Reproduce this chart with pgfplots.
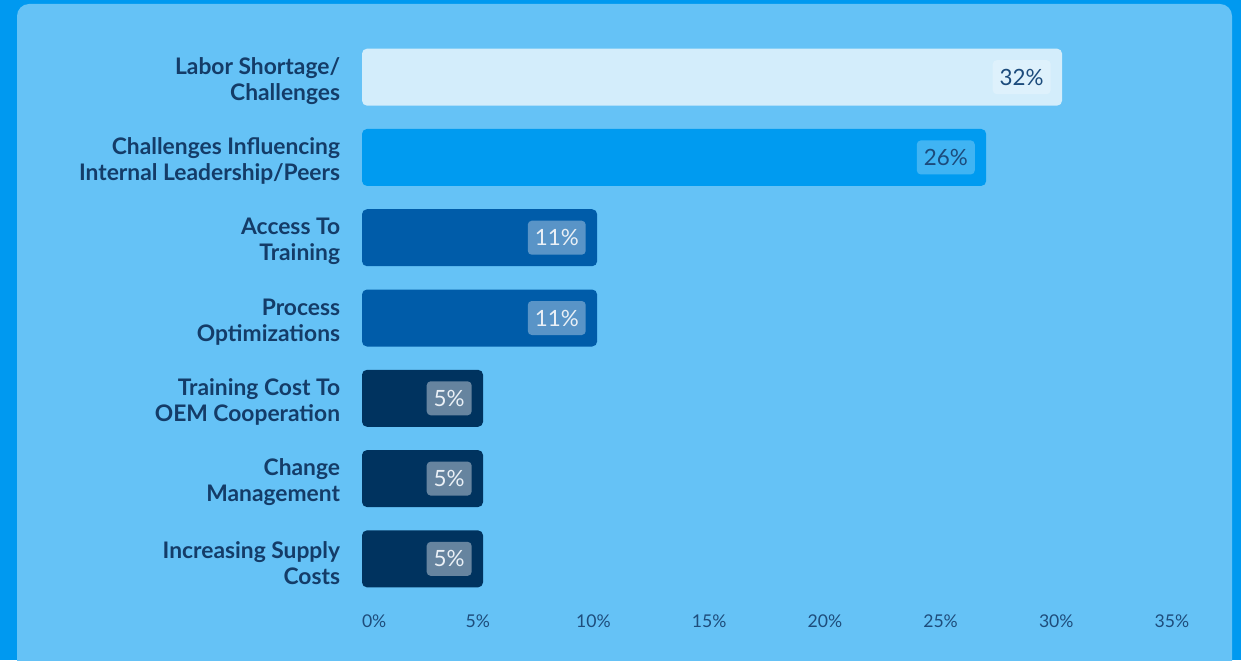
\documentclass[border=0pt]{standalone}
\usepackage{pgfplots}
\pgfplotsset{compat=1.18}
\usepackage{fontspec}
\setmainfont{Lato}
\definecolor{outerbg}{HTML}{0099F0}
\definecolor{panel}{HTML}{65C2F6}
\definecolor{barA}{HTML}{D3EDFB}
\definecolor{barB}{HTML}{009BF0}
\definecolor{barC}{HTML}{005CA9}
\definecolor{barD}{HTML}{00335F}
\definecolor{labcol}{HTML}{143C68}
\definecolor{tickcol}{HTML}{1E4D7C}
\definecolor{valdark}{HTML}{1C4B7C}
\definecolor{vallight}{HTML}{EAF0F6}
\begin{document}
\begin{tikzpicture}
\path[use as bounding box] (0,0) rectangle (620.5pt,330pt);
\fill[outerbg] (0,0) rectangle (620.5pt,330pt);
\fill[panel, rounded corners=6pt] (8.5pt,-12pt) rectangle (616pt,328pt);
\begin{axis}[
  at={(181pt,30.5pt)}, anchor=south west,
  scale only axis, width=405pt, height=281pt,
  xmin=0, xmax=35, ymin=-0.5, ymax=6.5, y dir=reverse,
  xbar, bar width=28.5pt, bar shift=0pt,
  axis line style={draw=none}, major tick style={draw=none},
  xtick={0,5,10,15,20,25,30,35},
  xticklabels={\makebox[0pt][l]{0\%},5\%,10\%,15\%,20\%,25\%,30\%,35\%},
  xticklabel style={font=\fontsize{8.8}{10}\selectfont, text=tickcol, inner sep=0pt, yshift=-7.5pt},
  ytick={0,1,2,3,4,5,6},
  yticklabels={Labor Shortage/\\Challenges, Challenges Influencing\\Internal Leadership/Peers, Access To\\Training, Process\\Optimizations, Training Cost To\\OEM Cooperation, Change\\Management, Increasing Supply\\Costs},
  yticklabel style={align=right, font=\bfseries\fontsize{11.4}{13}\selectfont, text=labcol, inner sep=0pt, xshift=-6.5pt, yshift=-2pt},
  point meta=explicit symbolic,
  nodes near coords={\pgfplotspointmeta\%},
  every node near coord/.append style={anchor=east, xshift=-5.5pt, font=\fontsize{11.2}{13}\selectfont, fill=white, fill opacity=0.3, text opacity=1, rounded corners=2pt, inner xsep=3.5pt, minimum height=17pt},
  clip=false,
]
\addplot[fill=barA, draw=none, rounded corners=2.5pt, every node near coord/.append style={text=valdark, fill opacity=0.25}] coordinates {(30.25,0) [32]};
\addplot[fill=barB, draw=none, rounded corners=2.5pt, every node near coord/.append style={text=valdark, fill opacity=0.25}] coordinates {(26.97,1) [26]};
\addplot[fill=barC, draw=none, rounded corners=2.5pt, every node near coord/.append style={text=vallight, fill opacity=0.35}] coordinates {(10.16,2) [11] (10.16,3) [11]};
\addplot[fill=barD, draw=none, rounded corners=2.5pt, every node near coord/.append style={text=vallight, fill opacity=0.4}] coordinates {(5.23,4) [5] (5.23,5) [5] (5.23,6) [5]};
\end{axis}
\end{tikzpicture}
\end{document}
